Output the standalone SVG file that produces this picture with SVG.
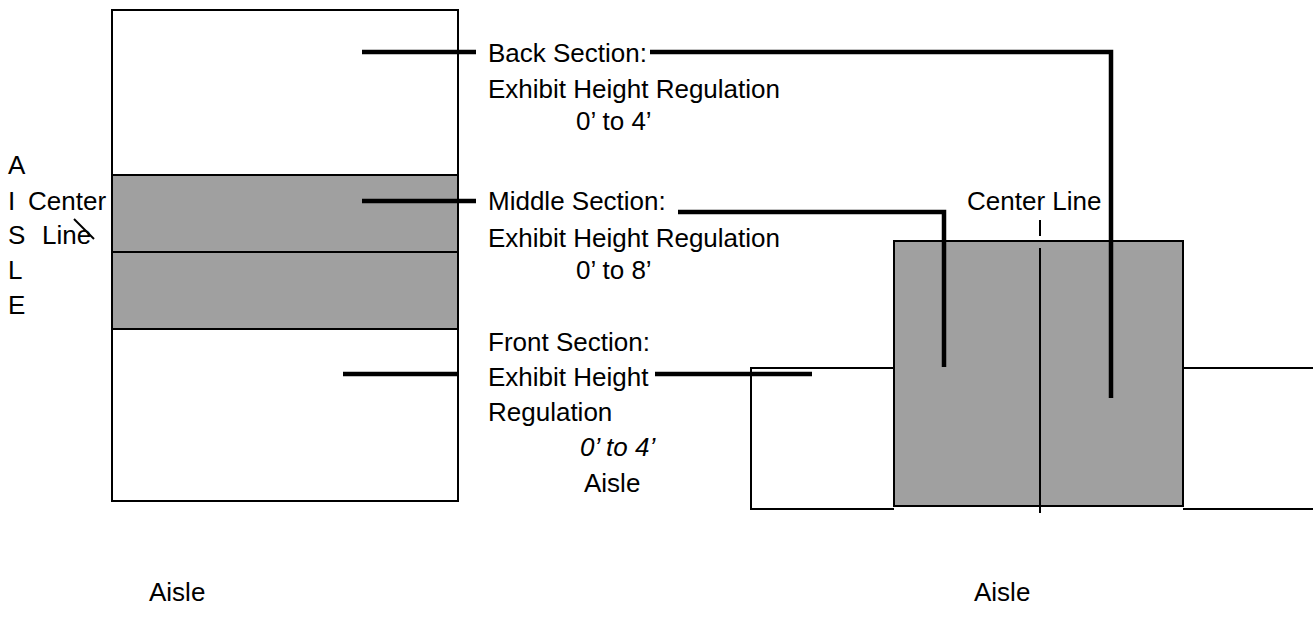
<svg xmlns="http://www.w3.org/2000/svg" width="1313" height="624" viewBox="0 0 1313 624">
<style>
text{font-family:"Liberation Sans",Arial,sans-serif;font-size:26px;fill:#000}
.thin{stroke:#000;stroke-width:2;fill:none}
.thick{stroke:#000;stroke-width:4.5;fill:none}
.gray{fill:#a0a0a0;stroke:#000;stroke-width:2}
</style>
<rect width="1313" height="624" fill="#fff"/>
<g id="left-booth">
<rect x="112" y="10" width="346" height="491" fill="#fff" stroke="#000" stroke-width="2"/>
<rect class="gray" x="112" y="175" width="346" height="77"/>
<rect class="gray" x="112" y="252" width="346" height="77"/>
</g>
<g id="left-aisle-label">
<text x="8" y="174">A</text>
<text x="8" y="210">I</text>
<text x="8" y="244">S</text>
<text x="8" y="279">L</text>
<text x="8" y="314">E</text>
<text x="28" y="210">Center</text>
<text x="42" y="244">Line</text>
<line class="thin" x1="74" y1="219" x2="94" y2="239" stroke-width="1.5"/>
</g>
<g id="right-booth">
<path class="thin" d="M894,368 H751 V509 H894"/>
<path class="thin" d="M1313,368 H1183 M1183,509 H1313"/>
<rect class="gray" x="894" y="241" width="289" height="265"/>
<line class="thin" x1="1040" y1="248" x2="1040" y2="513"/>
<line class="thin" x1="1040" y1="220" x2="1040" y2="236"/>
<text x="967" y="210">Center Line</text>
</g>
<g id="back-label">
<text x="488" y="62">Back Section:</text>
<text x="488" y="98">Exhibit Height Regulation</text>
<text x="576" y="130">0’ to 4’</text>
</g>
<g id="middle-label">
<text x="488" y="210">Middle Section:</text>
<text x="488" y="247">Exhibit Height Regulation</text>
<text x="576" y="279">0’ to 8’</text>
</g>
<g id="front-label">
<text x="488" y="351">Front Section:</text>
<text x="488" y="386">Exhibit Height</text>
<text x="488" y="421">Regulation</text>
<text x="580" y="456" font-style="italic">0’ to 4’</text>
<text x="584" y="492">Aisle</text>
</g>
<g id="bottom-aisles">
<text x="149" y="601">Aisle</text>
<text x="974" y="601">Aisle</text>
</g>
<g id="connectors">
<line class="thick" x1="362" y1="52" x2="476" y2="52"/>
<path class="thick" d="M650,52 H1111 V398"/>
<line class="thick" x1="362" y1="201" x2="476" y2="201"/>
<path class="thick" d="M678,212 H944 V367"/>
<line class="thick" x1="343" y1="374" x2="458" y2="374"/>
<line class="thick" x1="655" y1="374" x2="812" y2="374"/>
</g>
</svg>
